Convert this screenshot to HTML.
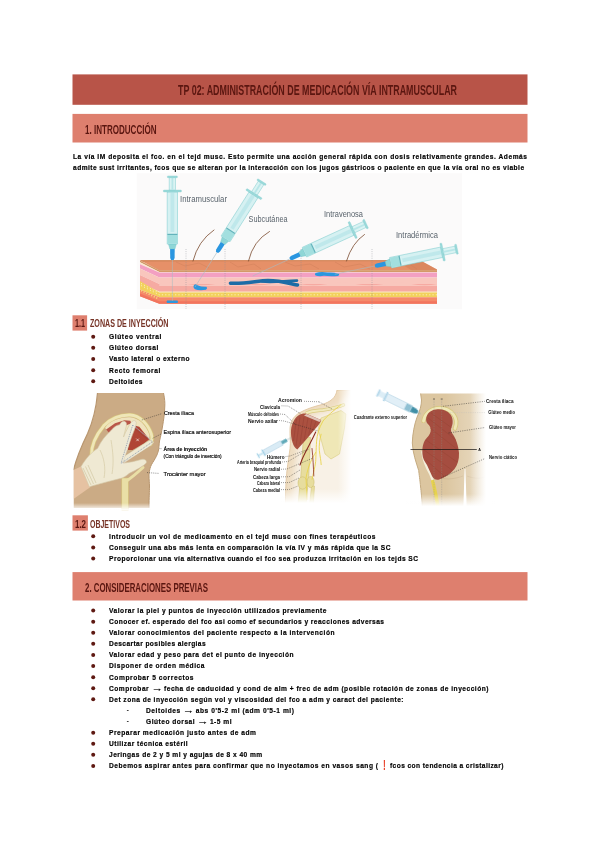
<!DOCTYPE html>
<html lang="es">
<head>
<meta charset="utf-8">
<title>TP 02: Administración de medicación vía intramuscular</title>
<style>
html,body{margin:0;padding:0;background:#fff;}
body{width:600px;height:848px;position:relative;overflow:hidden;font-family:"Liberation Sans",sans-serif;}
.t{position:absolute;white-space:pre;line-height:1;transform-origin:0 0;font-family:"Liberation Sans",sans-serif;}
.b{-webkit-text-stroke:0.2px #000;}
.ar{display:inline-block;transform:scaleX(1.75);transform-origin:0 50%;margin-right:3.6px;font-weight:400}
.ill{position:absolute;}
</style>
</head>
<body>
<svg class="ill" style="left:0;top:0" width="600" height="848" viewBox="0 0 600 848">
<g id="bars">
<rect x="72.5" y="74.4" width="455" height="30.4" fill="#b85448"/>
<rect x="72.5" y="113.9" width="455" height="28.6" fill="#de7f6e"/>
<rect x="72.5" y="572.1" width="455" height="28.4" fill="#de7f6e"/>
<rect x="72.5" y="315.3" width="14.6" height="15.3" fill="#de7f6e"/>
<rect x="72.5" y="515.3" width="15.4" height="15.3" fill="#de7f6e"/>
</g>
<g id="dots" fill="#5e1912">
<circle cx="93.2" cy="336.75" r="2.0"/>
<circle cx="93.2" cy="347.85" r="2.0"/>
<circle cx="93.2" cy="358.95" r="2.0"/>
<circle cx="93.2" cy="370.15" r="2.0"/>
<circle cx="93.2" cy="381.25" r="2.0"/>
<circle cx="93.2" cy="536.35" r="2.0"/>
<circle cx="93.2" cy="547.45" r="2.0"/>
<circle cx="93.2" cy="558.55" r="2.0"/>
<circle cx="93.2" cy="610.55" r="2.0"/>
<circle cx="93.2" cy="621.65" r="2.0"/>
<circle cx="93.2" cy="632.75" r="2.0"/>
<circle cx="93.2" cy="643.85" r="2.0"/>
<circle cx="93.2" cy="654.95" r="2.0"/>
<circle cx="93.2" cy="666.05" r="2.0"/>
<circle cx="93.2" cy="677.15" r="2.0"/>
<circle cx="93.2" cy="688.25" r="2.0"/>
<circle cx="93.2" cy="699.35" r="2.0"/>
<rect x="126.9" y="710.10" width="1.7" height="0.8" fill="#111"/>
<rect x="126.9" y="721.20" width="1.7" height="0.8" fill="#111"/>
<circle cx="93.2" cy="732.65" r="2.0"/>
<circle cx="93.2" cy="743.75" r="2.0"/>
<circle cx="93.2" cy="754.85" r="2.0"/>
<circle cx="93.2" cy="765.95" r="2.0"/>
</g>
<g id="ill1">
<defs>
<g id="syr">
<line x1="0" y1="0" x2="42" y2="0" stroke="#a9bcc2" stroke-width="0.55"/>
<polygon points="41,-1.3 43,-2.2 52,-2.3 52,2.3 43,2.2 41,1.3" fill="#2a96e0"/>
<polygon points="52,-2.6 57,-4 57,4 52,2.6" fill="#8fd6d6" stroke="#6bc0c4" stroke-width="0.3"/>
<rect x="57" y="-5.3" width="52" height="10.6" fill="#d6f1f2" stroke="#7ccbcd" stroke-width="0.5"/>
<rect x="57.3" y="-5" width="9" height="10" fill="#a3dfdf"/>
<rect x="66" y="-5" width="1.2" height="10" fill="#63b3bb"/>
<rect x="69" y="-1.9" width="39.5" height="3.8" fill="#b9e6e8" opacity="0.8"/>
<rect x="109" y="-9" width="2" height="18" rx="0.6" fill="#9bdada" stroke="#76c6c9" stroke-width="0.3"/>
<rect x="111" y="-3.3" width="12.3" height="6.6" fill="#daf3f3" stroke="#7ccbcd" stroke-width="0.45"/>
<rect x="111" y="-0.9" width="12.3" height="1.8" fill="#b9e6e8"/>
<rect x="123.3" y="-5" width="1.8" height="10" rx="0.5" fill="#9bdada" stroke="#76c6c9" stroke-width="0.3"/>
</g>
<clipPath id="skinclip"><polygon points="140,261 160,269.5 437,270.5 437,306 160,306 140,298"/></clipPath>
</defs>
<rect x="136.7" y="173.3" width="325.3" height="136" fill="#fbfafa"/>
<!-- skin block -->
<g>
<!-- top face -->
<polygon points="140,260.3 420,260.3 437,269.5 437,270.6 159.3,270.6" fill="#e69068"/>
<polygon points="140,260.3 420,260.3 421.5,261.2 142,261.4" fill="#cf8457"/>
<polygon points="395,260.3 420,260.3 437,269.5 437,270.6 412,270.6" fill="#d27f55" opacity="0.55"/>
<g stroke="#cf7f58" stroke-width="0.5" fill="none" opacity="0.9">
<path d="M176 262 l9 4 l14 -3 l10 5 M230 262 l8 5 l16 -3 l7 5 M285 262 l10 4 l15 -2 l9 5 M335 262 l9 5 l16 -3 l10 5 M385 262 l10 4 l14 -2 l8 5"/>
</g>
<!-- layers : left sheared + front -->
<polygon points="140,260.5 159.3,270.2 437,270.2 437,271.9 159.3,271.9 140,262.3" fill="#d39a68"/>
<polygon points="140,262.3 159.3,271.9 437,271.9 437,272.6 159.3,272.6 140,264.3" fill="#fbe6cf"/>
<polygon points="140,264.3 159.3,272.4 437,272.4 437,277.4 159.3,277.4 140,268.6" fill="#f3a0c2"/>
<polygon points="140,268.6 159.3,277.4 437,277.4 437,284 159.3,284 140,275" fill="#f9c6bd"/>
<polygon points="140,275 159.3,284 437,284 437,292 159.3,292 140,283" fill="#f6aaa2"/>
<path d="M159.3 284 q14 -2.4 28 0 t28 0 t28 0 t28 0 t28 0 t28 0 t28 0 t28 0 t28 0 t25.7 0 V286 H159.3Z" fill="#f9c6bd"/>
<polygon points="140,283 159.3,291.6 437,291.6 437,292.8 159.3,292.8 140,284.5" fill="#fbe9c4"/>
<polygon points="140,281 159.3,292.6 437,292.6 437,297.2 159.3,297.2 140,289.5" fill="#f2d15c"/>
<path d="M141 285.5 L159.3 294.8 H437" stroke="#fbeeb8" stroke-width="1" stroke-dasharray="1.2 2.1" fill="none"/>
<path d="M141 283.5 L158 292.5" stroke="#fbeeb8" stroke-width="1" stroke-dasharray="1.2 2.1" fill="none"/>
<polygon points="140,289.5 159.3,297.2 437,297.2 437,303.8 159.3,303.8 140,296.3" fill="#f5896a"/>
<polygon points="140,293.5 159.3,301.3 437,301.3 437,303.8 159.3,303.8 140,296.3" fill="#f2745e"/>
<path d="M141 290.5 L158 298.5" stroke="#f6d97a" stroke-width="1.6" stroke-dasharray="1.2 1.6" fill="none"/>
</g>
<!-- dotted guides -->
<g stroke="#8a8f96" stroke-width="0.5" stroke-dasharray="0.9 1.3">
<line x1="186" y1="249" x2="186" y2="309"/><line x1="225" y1="249" x2="225" y2="309"/>
<line x1="301" y1="249" x2="301" y2="309"/><line x1="372" y1="249" x2="372" y2="309"/>
</g>
<!-- hairs -->
<g fill="none" stroke="#7a4a2e" stroke-width="0.8" stroke-linecap="round">
<path d="M193 261 Q198 241 214 230"/>
<path d="M248.5 261 Q253 241 269.5 231.5"/>
<path d="M346.5 261 Q352 243 364.5 234.5"/>
</g>
<!-- vein -->
<g fill="none" stroke="#1d6ca6" stroke-linecap="round">
<path d="M230.5 283.2 C246 284 258 280.5 268 280.5 C280 280.5 290 283.5 297.5 285" stroke-width="3.6"/>
<path d="M262 281.5 C274 283 286 280.5 297 280.6" stroke-width="2.6"/>
</g>
<!-- blobs -->
<g fill="#2b97de">
<path d="M167 300.4 h10.5 q1 1.3 0 2.6 h-10.5 q-1 -1.3 0 -2.6z"/>
<path d="M194 285 q2 -1.6 3.5 0.3 q4 1.8 9 1.5 q1.5 1.6 -0.5 3 q-7 1 -11 -0.6 q-2.4 -1.6 -1 -4.2z"/>
<path d="M259 283 h4 v2 h-4z" opacity="0"/>
<path d="M315.5 273 q6 -1.8 12 -0.4 q6 -0.4 11.5 1.2 q0.8 1.6 -1 2.2 q-8 0.6 -14 -0.2 q-5 1 -8.5 -0.4 q-1.2 -1.2 0 -2.4z"/>
</g>
<!-- syringes -->
<use href="#syr" transform="translate(172.4,301) rotate(-90)"/>
<use href="#syr" transform="translate(195,287) rotate(-57.6)"/>
<use href="#syr" transform="translate(252.7,276) rotate(-24.7)"/>
<use href="#syr" transform="translate(334.8,274.2) rotate(-11.6)"/>
<g opacity="0.99" font-family="'Liberation Sans',sans-serif" font-size="8.2" fill="#555f68">
<text x="180" y="202" textLength="47" lengthAdjust="spacingAndGlyphs">Intramuscular</text>
<text x="248.6" y="222" textLength="39" lengthAdjust="spacingAndGlyphs">Subcutánea</text>
<text x="324" y="216.5" textLength="39" lengthAdjust="spacingAndGlyphs">Intravenosa</text>
<text x="396" y="238.2" textLength="42" lengthAdjust="spacingAndGlyphs">Intradérmica</text>
</g>
</g>

<g id="ill2">
<defs>
<filter id="soft" x="-5%" y="-5%" width="110%" height="110%"><feGaussianBlur stdDeviation="0.45"/></filter>
<linearGradient id="fadeb" x1="0" y1="0" x2="0" y2="1"><stop offset="0" stop-color="#fff" stop-opacity="0"/><stop offset="1" stop-color="#fff" stop-opacity="1"/></linearGradient>
<clipPath id="c2"><rect x="73.5" y="392.5" width="165" height="118"/></clipPath>
</defs>
<g clip-path="url(#c2)" filter="url(#soft)">
<!-- body -->
<path d="M97.5 393 L163.5 393 C164.8 399 165 403 164.8 406 C164.6 414 163.6 420 162.6 426 C161.6 432 160.5 437 159.5 441 C159 445 159 448 158.3 451 C157.3 455 155.5 458 154 460.5 C152 463.5 150.6 466 150 468.5 C149.2 471 149 473 149 475 C149 480 149.5 483 149.5 486 C149.5 492 149 497 149 508 L73.5 508 L73.5 470 C76 460 81 447 87.7 433.3 C93 421 96 411 97.5 393Z" fill="#cbab85"/>
<path d="M97.5 393 C96 411 93 421 87.7 433.3 C81 447 76 460 73.5 470" fill="none" stroke="#b8966f" stroke-width="1.2"/>
<path d="M163.5 393 C164.8 399 165 403 164.8 406 C164.6 414 163.6 420 162.6 426 C161.6 432 160.5 437 159.5 441 C159 445 159 448 158.3 451 C157.3 455 155.5 458 154 460.5 C152 463.5 150.6 466 150 468.5 C149.2 471 149 473 149 475 C149 480 149.5 483 149.5 486 C149.5 492 149 497 149 508" fill="none" stroke="#b8966f" stroke-width="1"/>
<!-- arm -->
<path d="M73.5 470 L82 466 L90.5 487 L73.5 499Z" fill="#e6c2a2"/>
<!-- hip bone arc -->
<path d="M91.5 456 C91 446 96 435 104 425.5 C112 417.5 122 414.8 130 415 C140 415.5 148 424 151.3 434 C152.5 438 152 441 150.5 444" fill="none" stroke="#d8c77c" stroke-width="4.2" stroke-linecap="round"/>
<path d="M91.5 456 C91 446 96 435 104 425.5 C112 417.5 122 414.8 130 415 C140 415.5 148 424 151.3 434 C152.5 438 152 441 150.5 444" fill="none" stroke="#efe6b8" stroke-width="2.8" stroke-linecap="round"/>
<!-- inner cream -->
<path d="M105 428 C110 420 122 417 130 417.3 C139 418 146 425 149.5 435 L149.3 439.2 L132.7 450 L127 450 L111 433.5Z" fill="#efe3bd"/>
<!-- muscle -->
<path d="M106.2 429.6 L115 423.2 L124.5 420.2 L130.3 420.8 L131.5 423.2 L124.5 426 L116.3 430 L109.5 433.4Z" fill="#b9574a"/>
<path d="M132.7 425 L139.3 426.7 L149.3 439.2 L144.3 443.3 L132.7 450 L127.7 450 L130.2 436.7Z" fill="#b04536"/>
<path d="M133 427 L147 439 M135 426.5 L148 438" stroke="#8d3428" stroke-width="0.4"/>
<!-- femur -->
<rect x="121.8" y="478" width="6.6" height="32" fill="#e9dfa6" stroke="#d2c070" stroke-width="0.5"/>
<path d="M126.5 481 C131 478 137 473 143 467.5" fill="none" stroke="#e9dfa6" stroke-width="3" stroke-linecap="round"/>
<!-- glove -->
<path d="M124 459.5 L149.6 443.2" fill="none" stroke="#d3c8a6" stroke-width="5.6" stroke-linecap="round"/>
<path d="M124 459.5 L149.6 443.2" fill="none" stroke="#efe9d3" stroke-width="4.6" stroke-linecap="round"/>
<path d="M81 466.7 C86 458 92 452 97.7 448.3 C101 441 106 435 111 430.5 C114 427 117.5 424.5 119.5 425 C120.5 423 122 421.3 123.8 421.3 C126 421.3 127 423.5 126.3 426 L123.5 437 C126 431 130 423.5 132 421.5 C133.5 420 136 420.3 136.3 422.5 C136.3 426 133 433 130.5 440 L124 459 L122.7 463.3 L132.7 461.7 L142 459.3 C145 458.8 147 460.5 146.3 462.8 C144 466 136 470 129.3 473.3 C126 476 123 478 121 478.3 L107.7 481.7 L89.3 486.7Z" fill="#efe9d3" stroke="#d3c8a6" stroke-width="0.6"/>
<path d="M83 468 L91 485 M85.5 466.5 L93.5 484 M88 465 L96 483" stroke="#d3c8a4" stroke-width="0.7" fill="none"/>
<path d="M100 450 C104 458 106 468 104 478 M111 440 C113 452 114 462 112 474" stroke="#d9cfac" stroke-width="0.8" fill="none"/>
<!-- dotted triangle -->
<path d="M132.7 425 L121 463.3 L152.7 441.7Z" fill="none" stroke="#6f86a8" stroke-width="0.7" stroke-dasharray="1 0.9"/>
<path d="M132.7 425 L121 463.3 L152.7 441.7Z" fill="none" stroke="#eef2f7" stroke-width="0.5" transform="translate(1.2,0.8)" opacity="0.7"/>
<path d="M136.3 438.6 l2.6 2.6 m0 -2.6 l-2.6 2.6" stroke="#fff" stroke-width="0.6"/>
<rect x="73" y="503" width="80" height="7" fill="url(#fadeb)"/>
</g>
<!-- leaders -->
<g stroke="#222" stroke-width="0.5" stroke-dasharray="1 1.1" fill="none">
<path d="M141.8 420 L162 413.6"/><path d="M152.7 438.3 L162 433.5"/><path d="M159.5 448.6 h2.5"/><path d="M147 472.6 L159 473.4"/>
</g>
<g opacity="0.99" font-family="'Liberation Sans',sans-serif" font-size="6" fill="#0a0a0a" stroke="#0a0a0a" stroke-width="0.18">
<text x="163.9" y="415.3" textLength="30" lengthAdjust="spacingAndGlyphs">Cresta ilíaca</text>
<text x="163.6" y="433.6" textLength="67.5" lengthAdjust="spacingAndGlyphs">Espina ilíaca anterosuperior</text>
<text x="163.6" y="451" textLength="43.5" lengthAdjust="spacingAndGlyphs" font-weight="700">Área de inyección</text>
<text x="163.6" y="458" textLength="58" lengthAdjust="spacingAndGlyphs" font-size="4.8">(Con triángulo de inserción)</text>
<text x="163.6" y="476" textLength="42" lengthAdjust="spacingAndGlyphs">Trocánter mayor</text>
</g>
</g>

<g id="ill3">
<defs>
<filter id="blur3" x="-20%" y="-20%" width="140%" height="140%"><feGaussianBlur stdDeviation="3"/></filter>
<clipPath id="c3"><rect x="236" y="390" width="117" height="120"/></clipPath>
<linearGradient id="fade3" x1="0" y1="0" x2="0" y2="1"><stop offset="0" stop-color="#fff" stop-opacity="0"/><stop offset="1" stop-color="#fff" stop-opacity="1"/></linearGradient>
<linearGradient id="fade3r" x1="0" y1="0" x2="1" y2="0"><stop offset="0" stop-color="#fff" stop-opacity="0"/><stop offset="1" stop-color="#fff" stop-opacity="1"/></linearGradient>
</defs>
<g clip-path="url(#c3)" filter="url(#soft)">
<!-- skin -->
<path d="M353 390 L337 390 C336 398 330 402 322 404.5 C314 406.5 306 409 299 413 C293 417 290.5 422 290 428 C289.6 436 291 442 290 448.5 C289 456 288 462 287 470 C286 480 285.4 490 285.4 510 L353 510Z" fill="#eedcc0" stroke="#dfc39c" stroke-width="0.8"/>
<clipPath id="c3s"><path d="M353 390 L337 390 C336 398 330 402 322 404.5 C314 406.5 306 409 299 413 C293 417 290.5 422 290 428 C289.6 436 291 442 290 448.5 C289 456 288 462 287 470 C286 480 285.4 490 285.4 510 L353 510Z"/></clipPath>
<g clip-path="url(#c3s)"><path d="M353 390 L337 390 C336 398 330 402 322 404.5 C314 406.5 306 409 299 413 C293 417 290.5 422 290 428 C289.6 436 291 442 290 448.5 C289 456 288 462 287 470 C286 480 285.4 490 285.4 510 L353 510Z" fill="#f8f1e6" transform="translate(7,6)" filter="url(#blur3)"/></g>
<!-- scapula -->
<path d="M321 418 L341 410.5 L346 414 L344.5 428 L339.5 454 L331 459 L325 454 L321.2 440 L318 430Z" fill="#efe7b6" stroke="#d9cb80" stroke-width="0.6" stroke-linejoin="round"/>
<!-- clavicle / acromion -->
<path d="M306.5 413 C312 410.5 318 410.5 323 410 C330 409 337 407.5 343.5 405" fill="none" stroke="#d9cb80" stroke-width="3.4" stroke-linecap="round"/>
<path d="M306.5 413 C312 410.5 318 410.5 323 410 C330 409 337 407.5 343.5 405" fill="none" stroke="#f1eabd" stroke-width="2.2" stroke-linecap="round"/>
<!-- humerus -->
<path d="M303.5 436 L310.5 437.5 L308.8 476 L305.5 510 L297.5 510 L300.8 476Z" fill="#e7dd9e" stroke="#cfbf70" stroke-width="0.6"/>
<path d="M311.5 486 L314.5 486 L313 510 L309 510Z" fill="#e7dd9e" stroke="#cfbf70" stroke-width="0.5"/>
<ellipse cx="302.6" cy="483" rx="4.6" ry="6.2" fill="#e7dd9e" stroke="#cfbf70" stroke-width="0.6"/>
<ellipse cx="310.6" cy="482" rx="3.5" ry="5.6" fill="#e7dd9e" stroke="#cfbf70" stroke-width="0.6"/>
<!-- nerves -->
<g fill="none" stroke="#e9d44c" stroke-width="0.9">
<path d="M341.3 404.5 C333 411 327 416 323 421 C319 428 317 435 316.6 441.2 C316 450 316 456 315.7 461.3 C315 468 313 474 312 479.7"/>
<path d="M321.2 433.8 C319.5 440 319 446 319.3 450.3 C320 456 321 461 321.2 465"/>
<path d="M316 452 C312 458 308 466 306 478 L307 500"/>
</g>
<!-- artery -->
<g fill="none" stroke="#8c2b22" stroke-width="1.1" stroke-linecap="round">
<path d="M315.7 432 C313 438 310.5 442.5 308.3 446.7 C305.5 452 303.5 456 302 459.5 L300 465"/>
<path d="M312 448.5 C313 458 313.5 468 313.8 476" stroke-width="0.8"/>
</g>
<!-- deltoid -->
<path d="M298.3 415.5 C301 413.8 304 413.2 306.5 413.7 L321.2 420 C320 423.5 318 426 315.7 428.3 L305.6 440.3 L297.3 449.4 C295 448 293.5 446 292.7 443 C291.2 439 290.8 434 291 430.2 C291.3 426.5 292.2 423.5 293.7 421 C295 418.5 296.5 416.8 298.3 415.5Z" fill="#ab5140"/>
<path d="M306.5 413.9 L321 420 L319.5 422 L304 415.6Z" fill="#e9d9cf" opacity="0.85"/>
<g stroke="#8a382b" stroke-width="0.35" fill="none"><path d="M300 417 L296 446 M304 417 L300 444 M308 418 L304 441 M312 419.5 L308.5 436 M316 421 L313 430 M296.5 419 L293.5 441"/></g>
<rect x="280" y="489" width="75" height="14" fill="url(#fade3)"/><rect x="280" y="502.8" width="75" height="10" fill="#fff"/>
<rect x="338" y="388" width="13" height="124" fill="url(#fade3r)"/><rect x="350.8" y="388" width="4" height="124" fill="#fff"/>
</g>
<!-- syringe -->
<g transform="translate(289.5,438.6) rotate(151.3)" filter="url(#soft)">
<line x1="-2" y1="0" x2="3" y2="0" stroke="#8aa" stroke-width="0.5"/>
<rect x="3" y="-1.7" width="6" height="3.4" fill="#5fa9b8"/>
<rect x="9" y="-2.3" width="20" height="4.6" fill="#d9ebf5" stroke="#a4cbe0" stroke-width="0.5"/>
<rect x="29" y="-3.6" width="1.3" height="7.2" fill="#a5d2e6"/>
<rect x="30" y="-1.2" width="5" height="2.4" fill="#cfe8f3"/>
<rect x="35" y="-2.6" width="1.2" height="5.2" fill="#a5d2e6"/>
</g>
<g stroke="#222" stroke-width="0.45" stroke-dasharray="1 1" fill="none">
<path d="M304 401.3 L319 401.8 M319 401.8 L332 409"/>
<path d="M281.5 405.8 L288 406 L301 414"/>
<path d="M280 414 L285 414.5 L296 425"/>
<path d="M279 420.5 L284 421 L318 431"/>
<path d="M285.5 456.6 L290 456 L306 450"/>
<path d="M282 462 L288 461.5 L309 449"/>
<path d="M281 469.3 L287 469 L313 458"/>
<path d="M281 476.8 L289 476.8 L300 470"/>
<path d="M281 482.6 L289 482.6 L299 478"/>
<path d="M281 489.6 L289 489.6 L298 486"/>
</g>
<g opacity="0.99" font-family="'Liberation Sans',sans-serif" font-size="4.8" fill="#0a0a0a" font-weight="700">
<text x="278" y="401.8" textLength="24" lengthAdjust="spacingAndGlyphs">Acromion</text>
<text x="260" y="408.8" textLength="20" lengthAdjust="spacingAndGlyphs">Clavícula</text>
<text x="248" y="416.4" textLength="31" lengthAdjust="spacingAndGlyphs">Músculo deltoides</text>
<text x="248" y="422.8" textLength="30" lengthAdjust="spacingAndGlyphs">Nervio axilar</text>
<text x="267" y="458.7" textLength="17.5" lengthAdjust="spacingAndGlyphs">Húmero</text>
<text x="237" y="464.2" textLength="44" lengthAdjust="spacingAndGlyphs">Arteria braquial profunda</text>
<text x="254" y="471.4" textLength="26" lengthAdjust="spacingAndGlyphs">Nervio radial</text>
<text x="253" y="478.9" textLength="27" lengthAdjust="spacingAndGlyphs">Cabeza larga</text>
<text x="257" y="484.7" textLength="23" lengthAdjust="spacingAndGlyphs">Cabeza lateral</text>
<text x="253" y="491.7" textLength="27" lengthAdjust="spacingAndGlyphs">Cabeza medial</text>
</g>
</g>

<g id="ill4">
<defs>
<linearGradient id="lite4" x1="0" y1="0" x2="1" y2="0"><stop offset="0" stop-color="#fff" stop-opacity="0"/><stop offset="1" stop-color="#fff" stop-opacity="0.45"/></linearGradient>
<clipPath id="c4"><rect x="405" y="392.5" width="90" height="118"/></clipPath>
<linearGradient id="fade4" x1="0" y1="0" x2="0" y2="1"><stop offset="0" stop-color="#fff" stop-opacity="0"/><stop offset="1" stop-color="#fff" stop-opacity="1"/></linearGradient>
<linearGradient id="fade4r" x1="0" y1="0" x2="1" y2="0"><stop offset="0" stop-color="#fff" stop-opacity="0"/><stop offset="1" stop-color="#fff" stop-opacity="1"/></linearGradient>
</defs>
<g clip-path="url(#c4)" filter="url(#soft)">
<!-- body -->
<path d="M420.6 393.5 L490 393.5 L490 510 L422.5 510 C422 500 421 490 420.6 487 C420 480 419 474 418.7 470.5 C416 462 413 454 412.3 443 C412.5 434 414.5 424 417 417.3 C420 411 421.5 405 421.5 400Z" fill="#dcc6a0"/>
<path d="M420.6 393.5 L421.5 400 C421.5 405 420 411 417 417.3 C414.5 424 412.5 434 412.3 443 C413 454 416 462 418.7 470.5 C419 474 420 480 420.6 487 C421 490 422 500 422.5 510" fill="none" stroke="#c4aa80" stroke-width="1"/>
<path d="M440 478 C448 480 456 478.5 463 476 M467 476 C473 478.5 480 479 485 477" fill="none" stroke="#c9b08a" stroke-width="0.6"/>
<rect x="445" y="392" width="45" height="120" fill="url(#lite4)"/>
<!-- gap between legs -->
<path d="M463.3 510 L464.6 469 L465.4 469 L466.8 510Z" fill="#fff"/>
<!-- bone outline -->
<path d="M423.5 421 C424.5 414.5 430 409.2 437 408.3 C444 407.5 449.5 409.5 453.5 414.5 C456.5 418.5 457 423.5 455 428.5" fill="none" stroke="#d6c77a" stroke-width="4.2" stroke-linecap="round"/>
<path d="M423.5 421 C424.5 414.5 430 409.2 437 408.3 C444 407.5 449.5 409.5 453.5 414.5 C456.5 418.5 457 423.5 455 428.5" fill="none" stroke="#efe7b8" stroke-width="2.8" stroke-linecap="round"/>
<path d="M422.6 452 C423.5 460 427 468 430.5 474 L433.5 482" fill="none" stroke="#f3efdc" stroke-width="2.6" stroke-linecap="round"/>
<!-- femur -->
<path d="M432.5 480 C434.5 488 436.5 496 438.5 510" fill="none" stroke="#e7d24e" stroke-width="3.4"/>
<!-- muscle -->
<path d="M427 415.5 C429 411.5 433 409.6 437.5 409.3 C442.5 409 447 410.5 450.5 414.5 C453 418 453.2 423 451.8 426.5 C450.5 429.5 450.5 431 453 434.5 C456 439 458.5 446 459 453 C459.3 459.5 457.5 465 454.5 469 C450 474.5 444 478 438.5 479.7 C436 480.3 433.5 479 432 476 L427 465 C424.5 461.5 422.6 458 422.4 454 C422 447 423.5 441.5 426.5 438.3 C429.5 435 431 432.5 430.7 429 C430.3 426 428.5 424.5 427 423 C425.8 421 425.8 418 427 415.5Z" fill="#a54e3f"/>
<g stroke="#8a382b" stroke-width="0.35" fill="none" opacity="0.8"><path d="M431 413 L452 428 M428 418 L456 440 M430 428 L458 450 M426 440 L457 462 M424 450 L452 470 M426 460 L444 476"/></g>
<!-- vertical dotted guides -->
<g stroke="#8d8d8d" stroke-width="0.45" stroke-dasharray="0.8 0.9"><line x1="434" y1="399" x2="434" y2="506"/><line x1="441.7" y1="399" x2="441.7" y2="506"/></g>
<rect x="405" y="494" width="90" height="12.2" fill="url(#fade4)"/><rect x="405" y="506" width="90" height="6" fill="#fff"/>
<rect x="470" y="392" width="16" height="120" fill="url(#fade4r)"/><rect x="485.8" y="392" width="6" height="120" fill="#fff"/>
</g>
<path d="M433.3 398.3 l1.4 1.4 m0 -1.4 l-1.4 1.4 M441 398.3 l1.4 1.4 m0 -1.4 l-1.4 1.4" stroke="#222" stroke-width="0.4"/>
<line x1="410.5" y1="449.5" x2="476.8" y2="449.5" stroke="#111" stroke-width="0.7"/>
<!-- syringe -->
<g transform="translate(421,413.9) rotate(-153.9)" filter="url(#soft)">
<line x1="0" y1="0" x2="4" y2="0" stroke="#8aa" stroke-width="0.5"/>
<polygon points="3.5,-1.2 6,-2.6 12,-3 12,3 6,2.6 3.5,1.2" fill="#3f8fa6"/>
<rect x="11" y="-3.5" width="28" height="7" fill="#e1eff7" stroke="#a9cde0" stroke-width="0.5"/>
<rect x="11.3" y="-3.2" width="6" height="6.4" fill="#8fc0d3"/>
<rect x="38.5" y="-5" width="1.8" height="10" fill="#b5d8ea"/>
<rect x="40.3" y="-2.2" width="6.5" height="4.4" fill="#dcedf6" stroke="#b5d8ea" stroke-width="0.3"/>
<rect x="46.5" y="-3.8" width="1.8" height="7.6" fill="#b5d8ea"/>
</g>
<g stroke="#222" stroke-width="0.45" stroke-dasharray="1.2 1.1" fill="none">
<path d="M443 406.3 L485 401.3"/><path d="M448.5 433 L485 427.5"/><path d="M441 478 L485 458.5"/>
</g>
<path d="M450 412.6 L485 412.6" stroke="#bbb" stroke-width="0.4" stroke-dasharray="0.8 1"/>
<g opacity="0.99" font-family="'Liberation Sans',sans-serif" font-size="4.6" fill="#111" font-weight="700">
<text x="353.7" y="418.8" textLength="53.5" lengthAdjust="spacingAndGlyphs" font-size="5.2">Cuadrante externo superior</text>
<text x="486" y="402.8" textLength="27.5" lengthAdjust="spacingAndGlyphs">Cresta ilíaca</text>
<text x="488.3" y="414" textLength="26.7" lengthAdjust="spacingAndGlyphs" font-weight="700">Glúteo medio</text>
<text x="489" y="428.6" textLength="27" lengthAdjust="spacingAndGlyphs">Glúteo mayor</text>
<text x="489" y="459" textLength="28" lengthAdjust="spacingAndGlyphs">Nervio ciático</text>
<text x="478.3" y="451" font-size="3.6">A</text>
</g>
</g>

</svg>
<div class="t h" style="left:177.5px;top:83.39px;font-size:14.6px;font-weight:700;color:#5a1610;transform:scaleX(0.6098)">TP 02: ADMINISTRACIÓN DE MEDICACIÓN VÍA INTRAMUSCULAR</div>
<div class="t h" style="left:84.5px;top:122.83px;font-size:13.2px;font-weight:700;color:#5a1610;transform:scaleX(0.6099)">1. INTRODUCCIÓN</div>
<div class="t h" style="left:74.5px;top:317.18px;font-size:11.6px;font-weight:700;color:#5a1610;transform:scaleX(0.6202)">1.1</div>
<div class="t h" style="left:89.5px;top:317.18px;font-size:11.6px;font-weight:700;color:#763326;transform:scaleX(0.6155)">ZONAS DE INYECCIÓN</div>
<div class="t h" style="left:74.5px;top:518.18px;font-size:11.6px;font-weight:700;color:#5a1610;transform:scaleX(0.6822)">1.2</div>
<div class="t h" style="left:89.5px;top:518.18px;font-size:11.6px;font-weight:700;color:#763326;transform:scaleX(0.6028)">OBJETIVOS</div>
<div class="t h" style="left:84.5px;top:580.83px;font-size:13.2px;font-weight:700;color:#5a1610;transform:scaleX(0.5973)">2. CONSIDERACIONES PREVIAS</div>
<div class="t b" style="left:72.5px;top:152.56px;font-size:7.9px;font-weight:700;letter-spacing:0.635px;color:#000;transform:scaleX(0.8400)">La vía IM deposita el fco. en el tejd musc. Esto permite una acción general rápida con dosis relativamente grandes. Además</div>
<div class="t b" style="left:72.5px;top:163.56px;font-size:7.9px;font-weight:700;letter-spacing:0.533px;color:#000;transform:scaleX(0.8400)">admite sust irritantes, fcos que se alteran por la interacción con los jugos gástricos o paciente en que la vía oral no es viable</div>
<div class="t b" style="left:109px;top:332.56px;font-size:7.9px;font-weight:700;letter-spacing:0.717px;color:#000;transform:scaleX(0.8400)">Glúteo ventral</div>
<div class="t b" style="left:109px;top:343.56px;font-size:7.9px;font-weight:700;letter-spacing:0.666px;color:#000;transform:scaleX(0.8400)">Glúteo dorsal</div>
<div class="t b" style="left:109px;top:354.56px;font-size:7.9px;font-weight:700;letter-spacing:0.532px;color:#000;transform:scaleX(0.8400)">Vasto lateral o externo</div>
<div class="t b" style="left:109px;top:366.56px;font-size:7.9px;font-weight:700;letter-spacing:0.714px;color:#000;transform:scaleX(0.8400)">Recto femoral</div>
<div class="t b" style="left:109px;top:377.56px;font-size:7.9px;font-weight:700;letter-spacing:0.551px;color:#000;transform:scaleX(0.8400)">Deltoides</div>
<div class="t b" style="left:109px;top:532.56px;font-size:7.9px;font-weight:700;letter-spacing:0.648px;color:#000;transform:scaleX(0.8400)">Introducir un vol de medicamento en el tejd musc con fines terapéuticos</div>
<div class="t b" style="left:109px;top:543.56px;font-size:7.9px;font-weight:700;letter-spacing:0.576px;color:#000;transform:scaleX(0.8400)">Conseguir una abs más lenta en comparación la vía IV y más rápida que la SC</div>
<div class="t b" style="left:109px;top:554.56px;font-size:7.9px;font-weight:700;letter-spacing:0.552px;color:#000;transform:scaleX(0.8400)">Proporcionar una vía alternativa cuando el fco sea produzca irritación en los tejds SC</div>
<div class="t b" style="left:109px;top:606.56px;font-size:7.9px;font-weight:700;letter-spacing:0.598px;color:#000;transform:scaleX(0.8400)">Valorar la piel y puntos de inyección utilizados previamente</div>
<div class="t b" style="left:109px;top:617.56px;font-size:7.9px;font-weight:700;letter-spacing:0.526px;color:#000;transform:scaleX(0.8400)">Conocer ef. esperado del fco asi como ef secundarios y reacciones adversas</div>
<div class="t b" style="left:109px;top:628.56px;font-size:7.9px;font-weight:700;letter-spacing:0.608px;color:#000;transform:scaleX(0.8400)">Valorar conocimientos del paciente respecto a la intervención</div>
<div class="t b" style="left:109px;top:639.56px;font-size:7.9px;font-weight:700;letter-spacing:0.475px;color:#000;transform:scaleX(0.8400)">Descartar posibles alergias</div>
<div class="t b" style="left:109px;top:650.56px;font-size:7.9px;font-weight:700;letter-spacing:0.599px;color:#000;transform:scaleX(0.8400)">Valorar edad y peso para det el punto de inyección</div>
<div class="t b" style="left:109px;top:661.56px;font-size:7.9px;font-weight:700;letter-spacing:0.632px;color:#000;transform:scaleX(0.8400)">Disponer de orden médica</div>
<div class="t b" style="left:109px;top:673.56px;font-size:7.9px;font-weight:700;letter-spacing:0.663px;color:#000;transform:scaleX(0.8400)">Comprobar 5 correctos</div>
<div class="t b" style="left:109px;top:684.56px;font-size:7.9px;font-weight:700;letter-spacing:0.589px;color:#000;transform:scaleX(0.8400)">Comprobar <span class="ar">→</span> fecha de caducidad y cond de alm + frec de adm (posible rotación de zonas de inyección)</div>
<div class="t b" style="left:109px;top:695.56px;font-size:7.9px;font-weight:700;letter-spacing:0.551px;color:#000;transform:scaleX(0.8400)">Det zona de inyección según vol y viscosidad del fco a adm y caract del paciente:</div>
<div class="t b" style="left:145.5px;top:706.56px;font-size:7.9px;font-weight:700;letter-spacing:0.656px;color:#000;transform:scaleX(0.8400)">Deltoides <span class="ar">→</span> abs 0&#x27;5-2 ml (adm 0&#x27;5-1 ml)</div>
<div class="t b" style="left:145.5px;top:717.56px;font-size:7.9px;font-weight:700;letter-spacing:0.583px;color:#000;transform:scaleX(0.8400)">Glúteo dorsal <span class="ar">→</span> 1-5 ml</div>
<div class="t b" style="left:109px;top:728.56px;font-size:7.9px;font-weight:700;letter-spacing:0.628px;color:#000;transform:scaleX(0.8400)">Preparar medicación justo antes de adm</div>
<div class="t b" style="left:109px;top:739.56px;font-size:7.9px;font-weight:700;letter-spacing:0.538px;color:#000;transform:scaleX(0.8400)">Utilizar técnica estéril</div>
<div class="t b" style="left:109px;top:750.56px;font-size:7.9px;font-weight:700;letter-spacing:0.534px;color:#000;transform:scaleX(0.8400)">Jeringas de 2 y 5 ml y agujas de 8 x 40 mm</div>
<div class="t b" style="left:109px;top:761.56px;font-size:7.9px;font-weight:700;letter-spacing:0.593px;color:#000;transform:scaleX(0.8400)">Debemos aspirar antes para confirmar que no inyectamos en vasos sang (</div>
<div class="t h" style="left:383.2px;top:757.95px;font-size:14px;font-weight:700;color:#e8402a;transform:scaleX(0.5993)">!</div>
<div class="t b" style="left:390.4px;top:761.56px;font-size:7.9px;font-weight:700;letter-spacing:0.477px;color:#000;transform:scaleX(0.8400)">fcos con tendencia a cristalizar)</div>
</body>
</html>
